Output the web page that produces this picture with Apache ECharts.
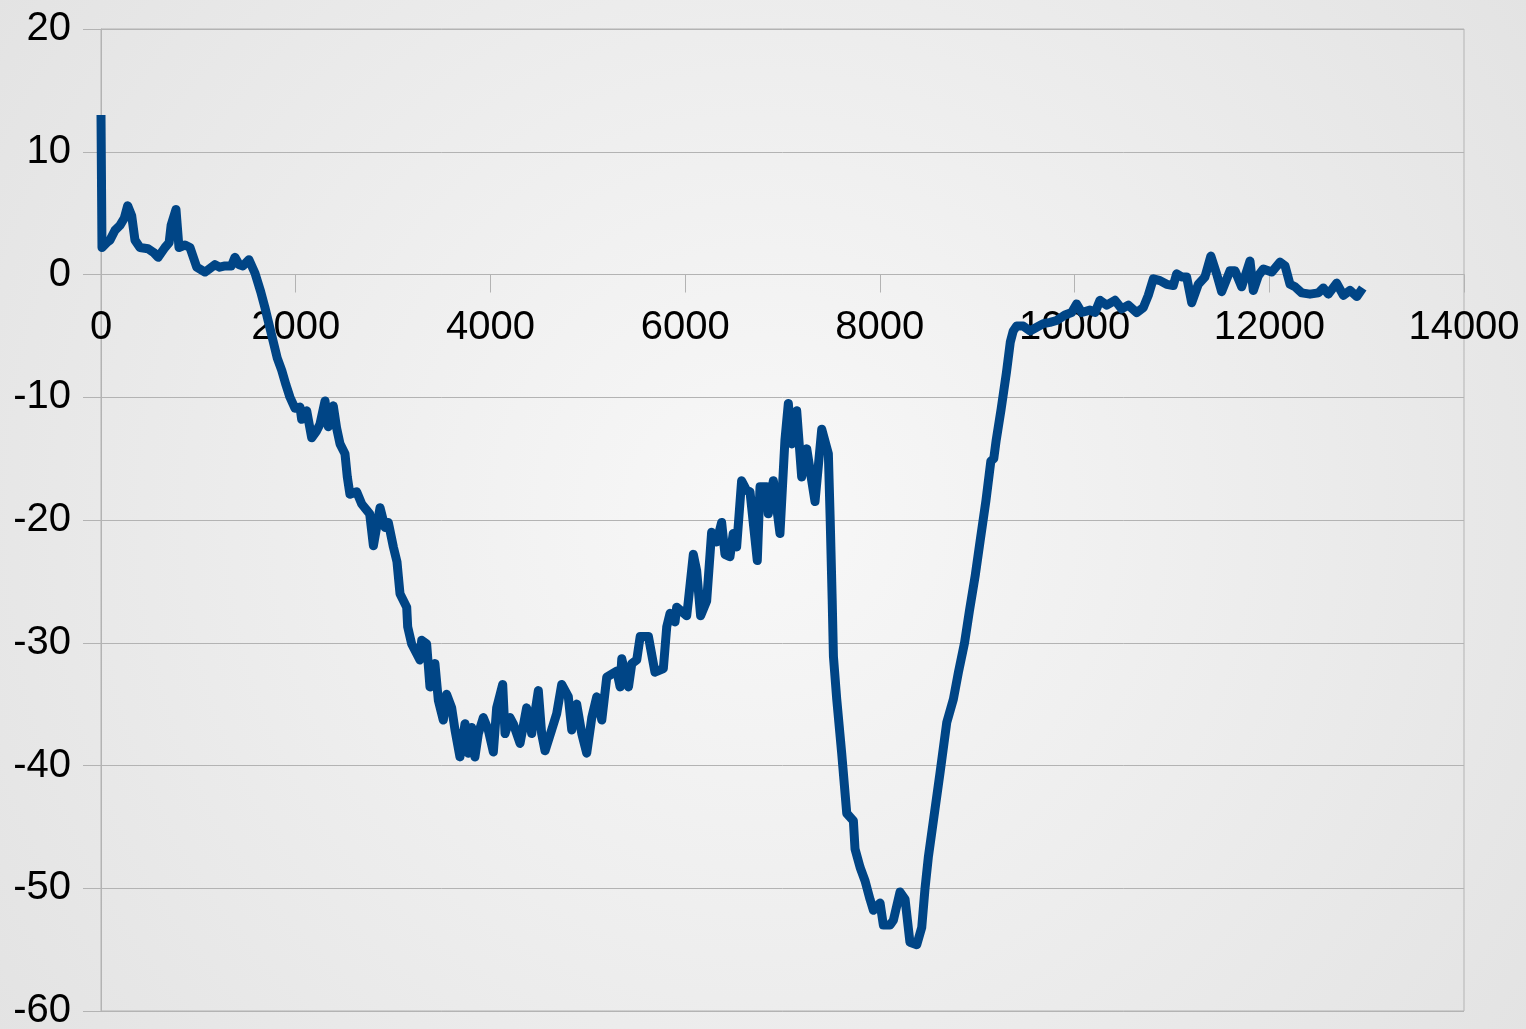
<!DOCTYPE html>
<html>
<head>
<meta charset="UTF-8">
<title>line</title>
<script src="https://cdn.jsdelivr.net/npm/echarts@6/dist/echarts.min.js"></script>
<style>
  html, body { margin: 0; padding: 0; }
  #main { width: 1526px; height: 1029px; }
</style>
</head>
<body>
<div id="main"></div>
<script>
// values
var xs = [
  0, 10, 60, 92, 144, 195, 240, 274, 315, 349, 400, 483, 540, 586, 657, 700, 720, 770, 801, 863,
  914, 983, 1068, 1120, 1171, 1220, 1274, 1340, 1376, 1420, 1458, 1520, 1582, 1640, 1684,
  1730, 1767, 1810, 1856, 1900, 1941, 1993, 2044, 2061, 2113, 2164, 2210, 2249, 2301, 2335,
  2386, 2420, 2455, 2506, 2530, 2557, 2626, 2678, 2729, 2760, 2798, 2866, 2917, 2951, 3003,
  3040, 3071, 3140, 3150, 3191, 3276, 3294, 3345, 3379, 3430, 3465, 3516, 3550, 3602, 3636,
  3687, 3739, 3773, 3807, 3841, 3876, 3927, 3978, 4030, 4064, 4126, 4150, 4201, 4235, 4304,
  4372, 4424, 4492, 4526, 4561, 4629, 4680, 4732, 4800, 4835, 4886, 4938, 4989, 5041, 5092,
  5144, 5195, 5298, 5332, 5349, 5418, 5452, 5503, 5538, 5623, 5690, 5776, 5811, 5845, 5896,
  5913, 6016, 6033, 6084, 6118, 6159, 6221, 6272, 6323, 6375, 6409, 6460, 6494, 6529, 6580,
  6632, 6666, 6741, 6769, 6837, 6854, 6906, 6974, 7025, 7060, 7094, 7146, 7197, 7249, 7334,
  7403, 7471, 7490, 7510, 7523, 7557, 7608, 7660, 7728, 7745, 7797, 7848, 7899, 7934, 8002,
  8036, 8105, 8139, 8207, 8259, 8309, 8379, 8430, 8464, 8499, 8550, 8618, 8687, 8755, 8807,
  8870, 8920, 8980, 9030, 9090, 9140, 9170, 9195, 9245, 9300, 9340, 9370, 9405,
  9473, 9542, 9611, 9679, 9747, 9816, 9901, 9970, 10021, 10073, 10158, 10210, 10261, 10330,
  10415, 10484, 10552, 10638, 10706, 10757, 10809, 10877, 10946, 11014, 11048, 11100, 11151,
  11203, 11271, 11339, 11400, 11459, 11511, 11596, 11648, 11716, 11802, 11836, 11887, 11939,
  12025, 12110, 12162, 12213, 12264, 12333, 12418, 12504, 12555, 12607, 12692, 12761, 12829,
  12900, 12960
];
var ys = [
  13.0, 2.2, 2.6, 2.8, 3.6, 4.0, 4.6, 5.6, 4.8, 2.8, 2.2, 2.1, 1.8, 1.4, 2.2, 2.6, 4.0, 5.3, 2.2, 2.4,
  2.2, 0.6, 0.2, 0.5, 0.8, 0.6, 0.7, 0.7, 1.4, 0.8, 0.7, 1.2, 0.1, -1.4, -2.7,
  -4.2, -5.4, -6.8, -7.8, -9.0, -10.0, -10.9, -10.8, -11.8, -11.1, -13.3, -12.8, -12.2, -10.3, -12.4,
  -10.7, -12.5, -13.8, -14.6, -16.5, -17.9, -17.7, -18.7, -19.2, -19.5, -22.1, -19.0, -20.6, -20.2, -22.2,
  -23.4, -26.0, -27.1, -28.7, -30.1, -31.4, -29.8, -30.1, -33.6, -31.7, -34.7, -36.3, -34.2, -35.3, -37.1,
  -39.3, -36.6, -39.0, -36.9, -39.3, -37.4, -36.1, -37.1, -38.9, -35.3, -33.4, -37.4, -36.1, -36.6, -38.2,
  -35.3, -37.4, -33.9, -37.4, -38.8, -37.1, -35.8, -33.4, -34.4, -37.1, -35.0, -37.4, -39.0, -36.1, -34.4,
  -36.3, -32.8, -32.3, -33.6, -31.3, -33.6, -31.7, -31.4, -29.5, -29.5, -32.4, -32.1, -28.7, -27.6, -28.3,
  -27.1, -27.8, -26.6, -22.8, -24.1, -27.8, -26.6, -21.0, -21.8, -20.2, -22.8, -23.0, -21.1, -22.2, -16.8,
  -17.6, -17.7, -23.3, -17.3, -17.3, -19.5, -16.8, -21.1, -13.5, -10.5, -13.8, -11.1, -16.5, -14.2, -18.5,
  -12.6, -14.6, -20.0, -26.4, -31.1, -34.6, -39.0, -43.9, -44.5, -46.8, -48.3, -49.4, -50.9, -51.8, -51.2,
  -53.0, -53.0, -52.6, -50.3, -50.9, -54.4, -54.6, -53.2, -50.0, -47.4, -44.5, -40.6, -36.5, -34.6, -32.4,
  -30.0, -27.4, -24.5, -21.7, -18.4, -15.2, -15.0, -13.5, -11.0, -8.0, -5.5, -4.6, -4.2,
  -4.2, -4.6, -4.3, -4.0, -3.9, -3.75, -3.3, -3.1, -2.4, -3.1, -2.9, -3.1, -2.1, -2.5,
  -2.1, -2.8, -2.5, -3.1, -2.7, -1.7, -0.35, -0.5, -0.8, -0.9, 0.05, -0.2, -0.2,
  -2.3, -0.8, -0.2, 1.5, 0.05, -1.4, 0.3, 0.3, -1.0, 1.1, -1.3, -0.1, 0.45,
  0.2, 1.0, 0.7, -0.8, -1.0, -1.5, -1.6, -1.5, -1.1, -1.6, -0.7, -1.7, -1.3,
  -1.8, -1.1
];
var xTicks = [0, 14000, 2000];   // min, max, step
var yTicks = [-60, 20, 10];

var pts = [];
for (var i = 0; i < xs.length; i++) {
  pts.push([xs[i], ys[i]]);
}

var grey = '#b3b3b3';
var font = 'Liberation Sans, Arial, sans-serif';

// grid box in pixels; the x axis is lifted from the bottom edge to y = 0
var gTop = 29, gBottom = 18, H = 1029;
var plotH = H - gTop - gBottom;
var zeroOffset = -plotH * (0 - yTicks[0]) / (yTicks[1] - yTicks[0]);

var myChart = echarts.init(document.getElementById('main'));
var option = {
  animation: false,
  backgroundColor: {
    type: 'radial', x: 0.5, y: 0.5, r: 0.9,
    colorStops: [
      { offset: 0, color: '#f8f8f8' },
      { offset: 1, color: '#e3e3e3' }
    ]
  },
  grid: {
    left: 101, right: 62, top: gTop, bottom: gBottom,
    outerBoundsMode: 'none', containLabel: false,
    show: true, borderColor: grey, borderWidth: 1, backgroundColor: 'transparent'
  },
  xAxis: {
    type: 'value',
    position: 'bottom',
    offset: zeroOffset,
    min: xTicks[0], max: xTicks[1], interval: xTicks[2],
    axisLine: { show: true, onZero: false, lineStyle: { color: grey, width: 1 } },
    axisTick: { show: true, length: 18, lineStyle: { color: grey } },
    axisLabel: {
      color: '#000', fontSize: 40, fontFamily: font, margin: 33,
      showMinLabel: true, showMaxLabel: true,
      formatter: function (v) { return String(v); }
    },
    splitLine: { show: false }
  },
  yAxis: {
    type: 'value',
    min: yTicks[0], max: yTicks[1], interval: yTicks[2],
    axisLine: { show: true, lineStyle: { color: grey, width: 1 } },
    axisTick: { show: true, length: 18, lineStyle: { color: grey } },
    axisLabel: {
      color: '#000', fontSize: 40, fontFamily: font, margin: 30,
      formatter: function (v) { return String(v); }
    },
    splitLine: { show: true, lineStyle: { color: grey, width: 1 } }
  },
  series: [
    {
      type: 'line',
      data: pts,
      showSymbol: false,
      symbol: 'none',
      lineStyle: { color: '#004586', width: 9, cap: 'butt', join: 'round' }
    }
  ]
};
myChart.setOption(option);
</script>
</body>
</html>
